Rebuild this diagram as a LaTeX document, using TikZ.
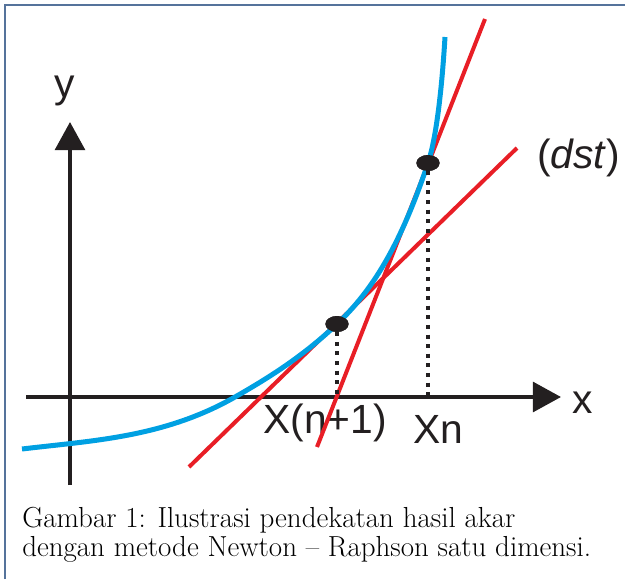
\documentclass[tikz,border=0pt]{standalone}
\usepackage{fontspec}
\newfontfamily\labelfont{Liberation Sans}
\usepackage{tikz}
\usetikzlibrary{arrows.meta, positioning, calc}
\definecolor{axisgray}{RGB}{35,31,32}
\definecolor{curveblue}{RGB}{0,160,226}
\definecolor{tanred}{RGB}{232,30,38}
\definecolor{framegray}{RGB}{85,115,155}
\tikzset{
  axisline/.style={line width=0.1cm, color=axisgray,
    -{Triangle[length=0.7cm, width=0.74cm]}},
  curveline/.style={line width=0.125cm, color=curveblue},
  tanline/.style={line width=0.1cm, color=tanred},
  dropline/.style={line width=0.1cm, color=axisgray,
    dash pattern=on 0.1cm off 0.14cm},
  ptmark/.style={ellipse, fill=axisgray, minimum width=0.58cm,
    minimum height=0.4cm, inner sep=0pt},
  axlabel/.style={font=\labelfont\fontsize{29}{34}\selectfont,
    text=axisgray, inner sep=0pt},
  captext/.style={font=\fontsize{20.6}{22}\selectfont, inner sep=0pt,
    anchor=base west},
}
\usetikzlibrary{shapes.geometric}

\begin{document}
\begin{tikzpicture}[x=0.025cm, y=-0.025cm]
  \useasboundingbox (0,0) rectangle (625,579);

  % ---- Bingkai ----
  \draw[framegray, line width=1.5pt] (5,579) -- (5,5) -- (625,5);

  % ---- Sumbu ----
  \coordinate (ybot) at (70,485);
  \coordinate (ytop) at (70,122);
  \coordinate (xlft) at (26,397);
  \coordinate (xrgt) at (561,397);
  \draw[axisline] (ybot) -- (ytop);
  \draw[axisline] (xlft) -- (xrgt);
  \node[axlabel, anchor=base] (ylab) at (65,97) {y};
  \node[axlabel, anchor=base] (xlab) at (583,413) {x};

  % ---- Label titik ----
  \node[axlabel, anchor=base] (lxn1) at (325,433) {X(n+1)};
  \node[axlabel, anchor=base] (lxn) at (438,443) {Xn};
  \node[axlabel, anchor=base west] (ldst) at (537,168) {(\textit{dst})};

  % ---- Garis singgung ----
  \node[ptmark] (pxn) at (428,163) {};
  \node[ptmark] (pxn1) at (337,324) {};
  \coordinate (t1a) at (317,447);
  \coordinate (t1b) at (485,19);
  \coordinate (t2a) at (189,467);
  \coordinate (t2b) at (517,148);
  \draw[tanline] (t1a) -- (t1b);
  \draw[tanline] (t2a) -- (t2b);

  % ---- Kurva f(x) ----
  \coordinate (c0) at (22,449);
  \coordinate (c1) at (235,397);
  \coordinate (c2) at (445,37);
  \draw[curveline] (c0)
    .. controls (93,440.5) and (164,437.5) .. (c1)
    .. controls (269,377.6) and (303,356.3) .. (pxn1.center)
    .. controls (367.3,295.2) and (397.7,253.9) .. (pxn.center)
    .. controls (437.5,134.5) and (442.6,77) .. (c2);

  % ---- Garis titik-titik ----
  \coordinate (dxn) at (428,395);
  \coordinate (dxn1) at (337,395);
  \draw[dropline] (pxn.south) -- (dxn);
  \draw[dropline] (pxn1.south) -- (dxn1);
  \node[ptmark] at (pxn) {};
  \node[ptmark] at (pxn1) {};

  % ---- Keterangan ----
  \node[captext] (cap1) at (22,527) {Gambar 1: Ilustrasi pendekatan hasil akar};
  \node[captext] (cap2) at (22,556) {dengan metode Newton -- Raphson satu dimensi.};
\end{tikzpicture}
\end{document}
